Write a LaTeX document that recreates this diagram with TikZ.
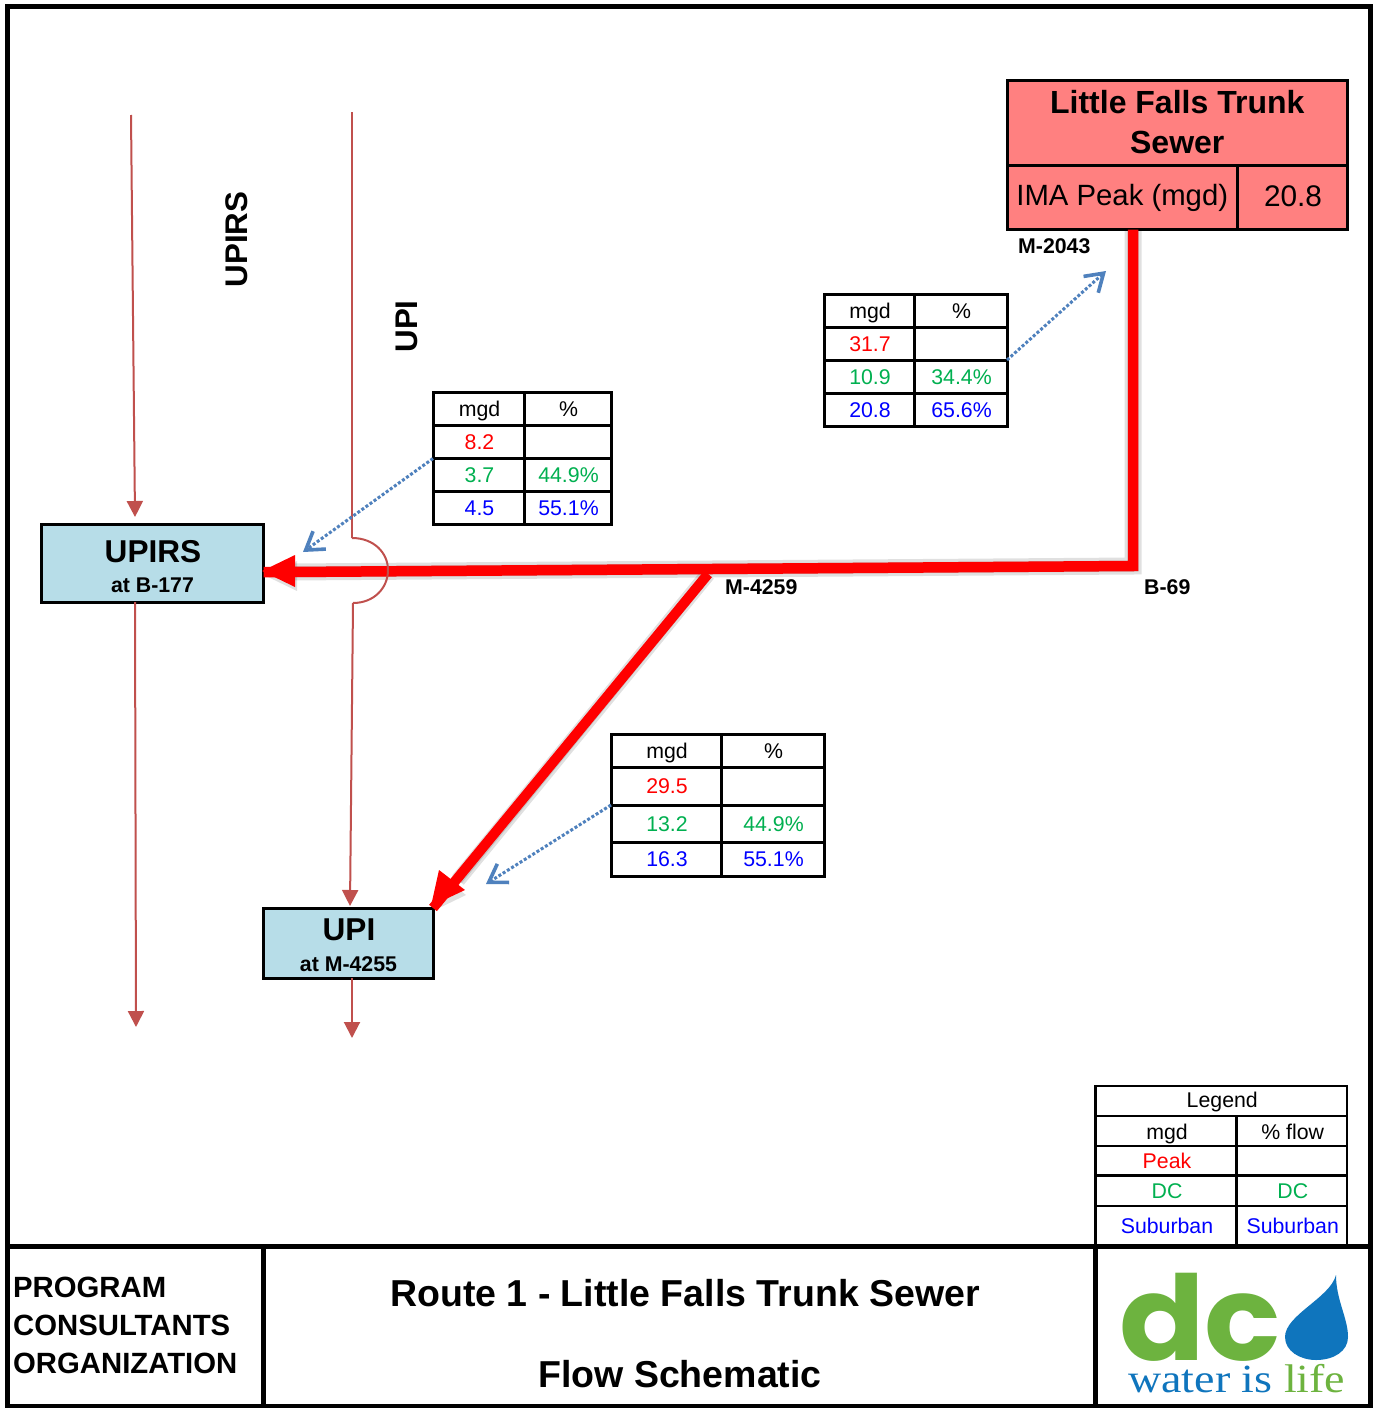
\documentclass[tikz,border=0pt]{standalone}
\usepackage{fontspec}
\setmainfont{Liberation Sans}
\newfontfamily\serifl{Liberation Serif}
\newfontfamily\logofont{Poppins}
\usetikzlibrary{arrows.meta}
\newcommand{\fs}[1]{\fontsize{#1}{#1}\selectfont}
\definecolor{brn}{HTML}{C0504D}
\definecolor{blu}{HTML}{4F81BD}
\definecolor{grn}{HTML}{00B050}
\definecolor{pinkc}{HTML}{FF8080}
\definecolor{boxc}{HTML}{B7DDE8}
\definecolor{logog}{HTML}{6DB33F}
\definecolor{logob}{HTML}{0F75BD}
\tikzset{
 cellbox/.style={draw=black,line width=3pt,inner sep=0pt,outer sep=0pt,align=center,text height=15.2pt,text depth=0pt,font=\fs{21.3}},
 legcell/.style={cellbox,line width=2.8pt},
 peak/.style={text=red},
 dcc/.style={text=grn},
 sub/.style={text=blue},
 lbl/.style={font=\bfseries\fs{21.3},inner sep=0pt},
 bigl/.style={font=\bfseries\fs{31.3},inner sep=0pt},
 flowline/.style={brn,line width=2pt},
 flowtip/.style={flowline,-{Triangle[length=16pt,width=16pt]}},
 dotarrow/.style={blu,line width=3pt,dotted,-{Straight Barb[length=17pt,width=22pt,line width=3.6pt]}},
 redline/.style={red,line width=10.5pt},
 redshadow/.style={black,opacity=.12},
 framel/.style={black,line width=5pt},
}
\newcommand{\cell}[7]{%
 \pgfmathsetmacro{\cw}{#4-#2}\pgfmathsetmacro{\ch}{#5-#3}%
 \pgfmathsetmacro{\cx}{(#4+#2)/2}\pgfmathsetmacro{\cy}{(#5+#3)/2}%
 \node[#6,minimum width=\cw pt,minimum height=\ch pt] (#1) at (\cx,\cy) {#7};}
\newcommand{\tx}[1]{\hspace*{2pt}#1}
\begin{document}
\begin{tikzpicture}[x=1pt,y=-1pt]
\useasboundingbox (0,0) rectangle (1376,1408);
\fill[white] (0,0) rectangle (1376,1408);
% coordinates
\coordinate (a1) at (131,115);
\coordinate (a3) at (135,517);
\coordinate (a2) at (136,1027);
\coordinate (b1) at (352,112);
\coordinate (h1) at (352,538);
\coordinate (h2) at (353,603);
\coordinate (b3) at (350,906);
\coordinate (b4) at (352,1038);
\coordinate (b69) at (1133,566);
\coordinate (m4259) at (708,574);
\coordinate (j) at (290,572);
\coordinate (d1) at (1106,271);
\coordinate (d2) at (303,552);
\coordinate (d3) at (486,884);
% boxes
\cell{upirs}{41}{524}{263.5}{602}{draw=black,line width=3pt,fill=boxc,inner sep=0pt,outer sep=0pt}{}
\cell{upi}{263}{908}{433}{978}{draw=black,line width=3pt,fill=boxc,inner sep=0pt,outer sep=0pt}{}
\node[bigl,font=\bfseries\fs{31.6}] (upirsT) at (153,551.5) {UPIRS};
\node[lbl] (upirsS) at (152.5,585) {at B-177};
\node[bigl,font=\bfseries\fs{31.6}] (upiT) at (349,929.5) {UPI};
\node[lbl] (upiS) at (348.5,964) {at M-4255};
% Little Falls
\cell{lf}{1007.5}{80.5}{1347}{165}{draw=black,line width=3pt,fill=pinkc,inner sep=0pt,outer sep=0pt,align=center,font=\bfseries\fontsize{32}{40}\selectfont,text depth=2pt}{Little Falls Trunk\\Sewer}
\cell{ima}{1007.5}{165}{1237}{229.5}{draw=black,line width=3pt,fill=pinkc,inner sep=0pt,outer sep=0pt,font=\fs{29.3},text height=23pt,text depth=6pt}{IMA Peak (mgd)}
\cell{imav}{1237}{165}{1347}{229.5}{draw=black,line width=3pt,fill=pinkc,inner sep=0pt,outer sep=0pt,font=\fs{29.8},text height=21pt,text depth=2pt}{\tx{20.8}}
% brown lines
\draw[flowtip] (a1) -- (a3);
\draw[flowtip] (upirs.south -| a3) -- (a2);
\draw[flowline,line width=2.4pt] (b1) -- (h1);
\draw[flowtip] (h2) -- (b3);
\draw[flowtip] (upi.south -| b4) -- (b4);
% shadows of red lines
\begin{scope}[shift={(3,5)}]
 \draw[redshadow,line width=17pt] (ima.south -| b69) -- (b69) -- (j);
 \draw[redshadow,line width=11pt] (ima.south -| b69) -- (b69) -- (j);
 \draw[redshadow,line width=15pt] (m4259) -- (455,875);
 \draw[redshadow,line width=10pt] (m4259) -- (455,875);
 \fill[redshadow] (294,556) -- (263,571) -- (294,586) -- cycle;
 \fill[redshadow] (440,872) -- (432,905) -- (463,890) -- cycle;
\end{scope}
% red lines
\draw[redline,line join=miter] (ima.south -| b69) -- (b69) -- (j) -- (upirs.east |- j);
\draw[red,line width=10pt] (m4259) -- (upi.north east);
\fill[red] (295,555) -- (262,571) -- (295,587) -- cycle;
\fill[red] (439,870) -- (431,906) -- (465,890) -- cycle;
\draw[flowline] (h1) .. controls (374,538) and (388,553) .. (388,570) .. controls (388,588) and (374,603) .. (h2);
% labels
\node[bigl,rotate=90] (lupirs) at (236.5,239.5) {UPIRS};
\node[bigl,rotate=90] (lupi) at (406.5,326.5) {UPI};
\node[lbl,anchor=base west] (lm2043) at (1018,253) {M-2043};
\node[lbl,anchor=base west] (lm4259) at (725,594) {M-4259};
\node[lbl,anchor=base west] (lb69) at (1144,594) {B-69};
% table 1
\cell{ta1}{824}{294}{914}{327}{cellbox}{\tx{mgd}}
\cell{ta2}{914}{294}{1007}{327}{cellbox}{\tx{\%}}
\cell{tb1}{824}{327}{914}{360}{cellbox,peak}{\tx{31.7}}
\cell{tb2}{914}{327}{1007}{360}{cellbox}{}
\cell{tc1}{824}{360}{914}{393}{cellbox,dcc}{\tx{10.9}}
\cell{tc2}{914}{360}{1007}{393}{cellbox,dcc}{\tx{34.4\%}}
\cell{td1}{824}{393}{914}{426}{cellbox,sub}{\tx{20.8}}
\cell{td2}{914}{393}{1007}{426}{cellbox,sub}{\tx{65.6\%}}
% table 2
\cell{ua1}{433}{392.5}{524}{425.5}{cellbox}{\tx{mgd}}
\cell{ua2}{524}{392.5}{611}{425.5}{cellbox}{\tx{\%}}
\cell{ub1}{433}{425.5}{524}{458.5}{cellbox,peak}{\tx{8.2}}
\cell{ub2}{524}{425.5}{611}{458.5}{cellbox}{}
\cell{uc1}{433}{458.5}{524}{491.5}{cellbox,dcc}{\tx{3.7}}
\cell{uc2}{524}{458.5}{611}{491.5}{cellbox,dcc}{\tx{44.9\%}}
\cell{ud1}{433}{491.5}{524}{524.5}{cellbox,sub}{\tx{4.5}}
\cell{ud2}{524}{491.5}{611}{524.5}{cellbox,sub}{\tx{55.1\%}}
% table 3
\cell{va1}{611}{734.5}{721}{767.5}{cellbox}{\tx{mgd}}
\cell{va2}{721}{734.5}{824}{767.5}{cellbox}{\tx{\%}}
\cell{vb1}{611}{767.5}{721}{805}{cellbox,peak}{\tx{29.5}}
\cell{vb2}{721}{767.5}{824}{805}{cellbox}{}
\cell{vc1}{611}{805}{721}{842}{cellbox,dcc}{\tx{13.2}}
\cell{vc2}{721}{805}{824}{842}{cellbox,dcc}{\tx{44.9\%}}
\cell{vd1}{611}{842}{721}{876}{cellbox,sub}{\tx{16.3}}
\cell{vd2}{721}{842}{824}{876}{cellbox,sub}{\tx{55.1\%}}
% dotted connectors
\draw[dotarrow] (tc2.north east) -- (d1);
\draw[dotarrow] (uc1.north west) -- (d2);
\draw[dotarrow] (vc1.north west) -- (d3);
% legend
\cell{lg}{1095.5}{1086}{1347}{1116}{legcell,text depth=2pt}{\tx{Legend}}
\cell{la1}{1095.5}{1116}{1236.5}{1146}{legcell,text height=17.2pt}{\tx{mgd}}
\cell{la2}{1236.5}{1116}{1347}{1146}{legcell,text height=17.2pt}{\tx{\% flow}}
\cell{lb1}{1095.5}{1146}{1236.5}{1175.5}{legcell,peak}{\tx{Peak}}
\cell{lb2}{1236.5}{1146}{1347}{1175.5}{legcell}{}
\cell{lc1}{1095.5}{1175.5}{1236.5}{1206}{legcell,dcc}{\tx{DC}}
\cell{lc2}{1236.5}{1175.5}{1347}{1206}{legcell,dcc}{\tx{DC}}
\cell{ld1}{1095.5}{1206}{1236.5}{1245}{legcell,sub}{\tx{Suburban}}
\cell{ld2}{1236.5}{1206}{1347}{1245}{legcell,sub}{\tx{Suburban}}
% frame
\draw[framel] (7,6.5) rectangle (1370.5,1406);
\draw[framel] (7,1246) -- (1370.5,1246);
\draw[framel] (263,1246) -- (263,1406);
\draw[framel] (1095,1246) -- (1095,1406);
% title block
\node[font=\bfseries\fontsize{29.3}{38}\selectfont,anchor=north west,align=left,inner sep=0pt] (org) at (13,1277) {PROGRAM\\CONSULTANTS\\ORGANIZATION};
\node[font=\bfseries\fs{37.5},inner sep=0pt] (t1) at (685,1293) {Route 1 - Little Falls Trunk Sewer};
\node[font=\bfseries\fs{37.5},inner sep=0pt] (t2) at (680,1374) {Flow Schematic};
% logo
\node[anchor=base west,inner sep=0pt,text=logog,font=\logofont\bfseries\fs{118},xscale=1.07] (logodc) at (1119,1360) {dc};
\fill[logob] (1336,1275) .. controls (1330,1298) and (1285,1315) .. (1285,1337) .. controls (1285,1351) and (1300,1360) .. (1316,1360) .. controls (1334,1360) and (1348,1351) .. (1348,1337) .. controls (1348,1318) and (1336,1300) .. (1336,1275) -- cycle;
\node[anchor=base west,inner sep=0pt,font=\serifl\fs{40},xscale=1.15] (logow) at (1128,1392) {\textcolor{logob}{water is} \textcolor{logog}{life}};
\end{tikzpicture}
\end{document}
